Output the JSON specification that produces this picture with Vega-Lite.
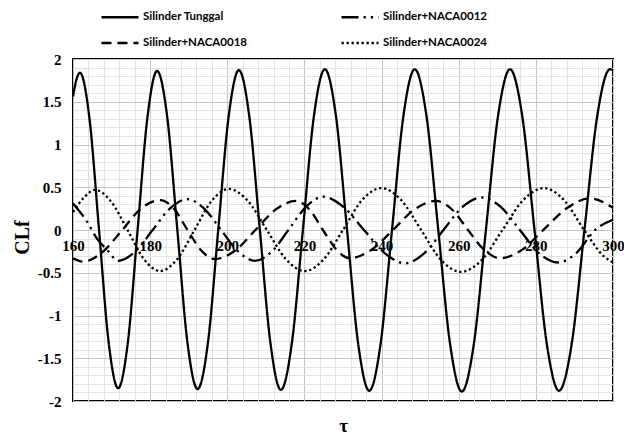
{
"$schema": "https://vega.github.io/schema/vega-lite/v6.json",
"width": 540, "height": 342,
"autosize": {"type": "none"},
"padding": {"left": 73, "top": 59, "right": 11, "bottom": 36},
"background": "white",
"config": {"view": {"stroke": "black", "strokeWidth": 2}},
"datasets": {
"lines": [
{"tau":160,"CL":1.56,"series":"Silinder Tunggal"},{"tau":160.9,"CL":1.76,"series":"Silinder Tunggal"},{"tau":161.8,"CL":1.84,"series":"Silinder Tunggal"},{"tau":164.28,"CL":1.30,"series":"Silinder Tunggal"},{"tau":166.75,"CL":0,"series":"Silinder Tunggal"},{"tau":169.23,"CL":-1.31,"series":"Silinder Tunggal"},{"tau":171.7,"CL":-1.85,"series":"Silinder Tunggal"},{"tau":174.23,"CL":-1.31,"series":"Silinder Tunggal"},{"tau":176.75,"CL":0,"series":"Silinder Tunggal"},{"tau":179.28,"CL":1.31,"series":"Silinder Tunggal"},{"tau":181.8,"CL":1.86,"series":"Silinder Tunggal"},{"tau":184.43,"CL":1.32,"series":"Silinder Tunggal"},{"tau":187.05,"CL":0,"series":"Silinder Tunggal"},{"tau":189.68,"CL":-1.32,"series":"Silinder Tunggal"},{"tau":192.3,"CL":-1.86,"series":"Silinder Tunggal"},{"tau":194.98,"CL":-1.32,"series":"Silinder Tunggal"},{"tau":197.65,"CL":0,"series":"Silinder Tunggal"},{"tau":200.33,"CL":1.32,"series":"Silinder Tunggal"},{"tau":203.0,"CL":1.87,"series":"Silinder Tunggal"},{"tau":205.73,"CL":1.32,"series":"Silinder Tunggal"},{"tau":208.45,"CL":0,"series":"Silinder Tunggal"},{"tau":211.18,"CL":-1.32,"series":"Silinder Tunggal"},{"tau":213.9,"CL":-1.87,"series":"Silinder Tunggal"},{"tau":216.75,"CL":-1.32,"series":"Silinder Tunggal"},{"tau":219.6,"CL":0,"series":"Silinder Tunggal"},{"tau":222.45,"CL":1.33,"series":"Silinder Tunggal"},{"tau":225.3,"CL":1.88,"series":"Silinder Tunggal"},{"tau":228.18,"CL":1.33,"series":"Silinder Tunggal"},{"tau":231.05,"CL":0,"series":"Silinder Tunggal"},{"tau":233.93,"CL":-1.33,"series":"Silinder Tunggal"},{"tau":236.8,"CL":-1.88,"series":"Silinder Tunggal"},{"tau":239.75,"CL":-1.33,"series":"Silinder Tunggal"},{"tau":242.7,"CL":0,"series":"Silinder Tunggal"},{"tau":245.65,"CL":1.33,"series":"Silinder Tunggal"},{"tau":248.6,"CL":1.88,"series":"Silinder Tunggal"},{"tau":251.65,"CL":1.33,"series":"Silinder Tunggal"},{"tau":254.7,"CL":0,"series":"Silinder Tunggal"},{"tau":257.75,"CL":-1.33,"series":"Silinder Tunggal"},{"tau":260.8,"CL":-1.89,"series":"Silinder Tunggal"},{"tau":263.93,"CL":-1.33,"series":"Silinder Tunggal"},{"tau":267.05,"CL":0,"series":"Silinder Tunggal"},{"tau":270.18,"CL":1.33,"series":"Silinder Tunggal"},{"tau":273.3,"CL":1.88,"series":"Silinder Tunggal"},{"tau":276.48,"CL":1.33,"series":"Silinder Tunggal"},{"tau":279.65,"CL":0,"series":"Silinder Tunggal"},{"tau":282.83,"CL":-1.33,"series":"Silinder Tunggal"},{"tau":286.0,"CL":-1.88,"series":"Silinder Tunggal"},{"tau":289.3,"CL":-1.33,"series":"Silinder Tunggal"},{"tau":292.6,"CL":0,"series":"Silinder Tunggal"},{"tau":295.9,"CL":1.33,"series":"Silinder Tunggal"},{"tau":299.2,"CL":1.88,"series":"Silinder Tunggal"},{"tau":300,"CL":1.87,"series":"Silinder Tunggal"},
{"tau":160,"CL":0.21,"series":"Silinder+NACA0024"},{"tau":162.85,"CL":0.38,"series":"Silinder+NACA0024"},{"tau":165.7,"CL":0.47,"series":"Silinder+NACA0024"},{"tau":169.93,"CL":0.33,"series":"Silinder+NACA0024"},{"tau":174.15,"CL":0,"series":"Silinder+NACA0024"},{"tau":178.38,"CL":-0.34,"series":"Silinder+NACA0024"},{"tau":182.6,"CL":-0.48,"series":"Silinder+NACA0024"},{"tau":187.05,"CL":-0.34,"series":"Silinder+NACA0024"},{"tau":191.5,"CL":0,"series":"Silinder+NACA0024"},{"tau":195.95,"CL":0.34,"series":"Silinder+NACA0024"},{"tau":200.4,"CL":0.48,"series":"Silinder+NACA0024"},{"tau":205.33,"CL":0.34,"series":"Silinder+NACA0024"},{"tau":210.25,"CL":0,"series":"Silinder+NACA0024"},{"tau":215.18,"CL":-0.34,"series":"Silinder+NACA0024"},{"tau":220.1,"CL":-0.48,"series":"Silinder+NACA0024"},{"tau":225.05,"CL":-0.34,"series":"Silinder+NACA0024"},{"tau":230.0,"CL":0,"series":"Silinder+NACA0024"},{"tau":234.95,"CL":0.35,"series":"Silinder+NACA0024"},{"tau":239.9,"CL":0.49,"series":"Silinder+NACA0024"},{"tau":245.08,"CL":0.35,"series":"Silinder+NACA0024"},{"tau":250.25,"CL":0,"series":"Silinder+NACA0024"},{"tau":255.43,"CL":-0.35,"series":"Silinder+NACA0024"},{"tau":260.6,"CL":-0.49,"series":"Silinder+NACA0024"},{"tau":265.98,"CL":-0.35,"series":"Silinder+NACA0024"},{"tau":271.35,"CL":0,"series":"Silinder+NACA0024"},{"tau":276.73,"CL":0.35,"series":"Silinder+NACA0024"},{"tau":282.1,"CL":0.49,"series":"Silinder+NACA0024"},{"tau":287.3,"CL":0.35,"series":"Silinder+NACA0024"},{"tau":292.5,"CL":0,"series":"Silinder+NACA0024"},{"tau":297.7,"CL":-0.31,"series":"Silinder+NACA0024"},{"tau":300,"CL":-0.38,"series":"Silinder+NACA0024"},
{"tau":160,"CL":-0.33,"series":"Silinder+NACA0018"},{"tau":162.6,"CL":-0.37,"series":"Silinder+NACA0018"},{"tau":167.6,"CL":-0.26,"series":"Silinder+NACA0018"},{"tau":172.6,"CL":-0.01,"series":"Silinder+NACA0018"},{"tau":177.6,"CL":0.25,"series":"Silinder+NACA0018"},{"tau":182.6,"CL":0.35,"series":"Silinder+NACA0018"},{"tau":186.15,"CL":0.25,"series":"Silinder+NACA0018"},{"tau":189.7,"CL":0,"series":"Silinder+NACA0018"},{"tau":193.25,"CL":-0.24,"series":"Silinder+NACA0018"},{"tau":196.8,"CL":-0.34,"series":"Silinder+NACA0018"},{"tau":202.05,"CL":-0.24,"series":"Silinder+NACA0018"},{"tau":207.3,"CL":0,"series":"Silinder+NACA0018"},{"tau":212.55,"CL":0.24,"series":"Silinder+NACA0018"},{"tau":217.8,"CL":0.34,"series":"Silinder+NACA0018"},{"tau":221.3,"CL":0.24,"series":"Silinder+NACA0018"},{"tau":224.8,"CL":0,"series":"Silinder+NACA0018"},{"tau":228.3,"CL":-0.23,"series":"Silinder+NACA0018"},{"tau":231.8,"CL":-0.33,"series":"Silinder+NACA0018"},{"tau":237.4,"CL":-0.23,"series":"Silinder+NACA0018"},{"tau":242.95,"CL":0,"series":"Silinder+NACA0018"},{"tau":248.5,"CL":0.24,"series":"Silinder+NACA0018"},{"tau":254.1,"CL":0.34,"series":"Silinder+NACA0018"},{"tau":258.25,"CL":0.24,"series":"Silinder+NACA0018"},{"tau":262.4,"CL":0,"series":"Silinder+NACA0018"},{"tau":266.55,"CL":-0.23,"series":"Silinder+NACA0018"},{"tau":270.7,"CL":-0.33,"series":"Silinder+NACA0018"},{"tau":276.5,"CL":-0.23,"series":"Silinder+NACA0018"},{"tau":282.35,"CL":0.02,"series":"Silinder+NACA0018"},{"tau":288.2,"CL":0.26,"series":"Silinder+NACA0018"},{"tau":294.0,"CL":0.37,"series":"Silinder+NACA0018"},{"tau":300,"CL":0.26,"series":"Silinder+NACA0018"},
{"tau":160,"CL":0.31,"series":"Silinder+NACA0012"},{"tau":163.6,"CL":0.1,"series":"Silinder+NACA0012"},{"tau":166.2,"CL":-0.1,"series":"Silinder+NACA0012"},{"tau":168.8,"CL":-0.23,"series":"Silinder+NACA0012"},{"tau":171.7,"CL":-0.36,"series":"Silinder+NACA0012"},{"tau":176.2,"CL":-0.25,"series":"Silinder+NACA0012"},{"tau":180.65,"CL":0,"series":"Silinder+NACA0012"},{"tau":185.1,"CL":0.25,"series":"Silinder+NACA0012"},{"tau":189.6,"CL":0.36,"series":"Silinder+NACA0012"},{"tau":194.0,"CL":0.25,"series":"Silinder+NACA0012"},{"tau":198.4,"CL":0,"series":"Silinder+NACA0012"},{"tau":202.8,"CL":-0.25,"series":"Silinder+NACA0012"},{"tau":207.2,"CL":-0.36,"series":"Silinder+NACA0012"},{"tau":211.6,"CL":-0.25,"series":"Silinder+NACA0012"},{"tau":216.0,"CL":0.01,"series":"Silinder+NACA0012"},{"tau":220.4,"CL":0.27,"series":"Silinder+NACA0012"},{"tau":224.8,"CL":0.39,"series":"Silinder+NACA0012"},{"tau":230.1,"CL":0.27,"series":"Silinder+NACA0012"},{"tau":235.45,"CL":0,"series":"Silinder+NACA0012"},{"tau":240.8,"CL":-0.27,"series":"Silinder+NACA0012"},{"tau":246.1,"CL":-0.39,"series":"Silinder+NACA0012"},{"tau":251.1,"CL":-0.27,"series":"Silinder+NACA0012"},{"tau":256.05,"CL":0,"series":"Silinder+NACA0012"},{"tau":261.0,"CL":0.27,"series":"Silinder+NACA0012"},{"tau":266.0,"CL":0.38,"series":"Silinder+NACA0012"},{"tau":270.9,"CL":0.27,"series":"Silinder+NACA0012"},{"tau":275.85,"CL":0,"series":"Silinder+NACA0012"},{"tau":280.8,"CL":-0.27,"series":"Silinder+NACA0012"},{"tau":285.7,"CL":-0.38,"series":"Silinder+NACA0012"},{"tau":290.5,"CL":-0.27,"series":"Silinder+NACA0012"},{"tau":295.35,"CL":0,"series":"Silinder+NACA0012"},{"tau":300,"CL":0.12,"series":"Silinder+NACA0012"}
]},
"data": {"name": "lines"},
"layer": [
{
"mark": {"type": "line", "strokeOpacity": 0, "interpolate": "monotone"},
"encoding": {
"x": {"field": "tau", "type": "quantitative", "scale": {"domain": [160, 300], "nice": false, "zero": false},
"axis": {"orient": "top", "values": [164,168,172,176,184,188,192,196,204,208,212,216,224,228,232,236,244,248,252,256,264,268,272,276,284,288,292,296], "labels": false, "ticks": false, "domain": false, "title": null, "grid": true, "gridColor": "#e2e2e2", "gridWidth": 1}},
"y": {"field": "CL", "type": "quantitative", "scale": {"domain": [-2, 2], "nice": false, "zero": false},
"axis": {"orient": "right", "values": [-1.9,-1.8,-1.7,-1.6,-1.4,-1.3,-1.2,-1.1,-0.9,-0.8,-0.7,-0.6,-0.4,-0.3,-0.2,-0.1,0.1,0.2,0.3,0.4,0.6,0.7,0.8,0.9,1.1,1.2,1.3,1.4,1.6,1.7,1.8,1.9], "labels": false, "ticks": false, "domain": false, "title": null, "grid": true, "gridColor": "#e2e2e2", "gridWidth": 1}},
"detail": {"field": "series"}
}
},
{
"mark": {"type": "line", "interpolate": "monotone", "color": "black", "strokeWidth": 2.3, "strokeCap": "butt"},
"encoding": {
"x": {"field": "tau", "type": "quantitative",
"axis": {"orient": "bottom", "offset": -171, "values": [160,180,200,220,240,260,280,300], "labelFlush": false, "labelFont": "Liberation Serif", "labelFontWeight": "bold", "labelFontSize": 15, "labelColor": "black", "labelPadding": 8, "ticks": false, "tickSize": 0, "domain": false, "grid": true, "gridColor": "#c4c4c4", "gridWidth": 1,
"title": "τ", "titleFont": "Liberation Serif", "titleFontWeight": "bold", "titleFontSize": 19, "titleColor": "black", "titleX": 270, "titleY": 195, "titleBaseline": "middle"}},
"y": {"field": "CL", "type": "quantitative",
"axis": {"orient": "left", "values": [-2,-1.5,-1,-0.5,0,0.5,1,1.5,2], "labelExpr": "'' + datum.value", "labelFont": "Liberation Serif", "labelFontWeight": "bold", "labelFontSize": 15, "labelColor": "black", "labelPadding": 12, "ticks": false, "tickSize": 0, "domain": false, "grid": true, "gridColor": "#c4c4c4", "gridWidth": 1,
"title": "CLf", "titleFont": "Liberation Serif", "titleFontWeight": "bold", "titleFontSize": 20, "titleColor": "black", "titleX": -51, "titleY": 178, "titleBaseline": "middle", "titleAngle": -90}},
"strokeDash": {"field": "series", "type": "nominal",
"scale": {"domain": ["Silinder Tunggal", "Silinder+NACA0012", "Silinder+NACA0018", "Silinder+NACA0024"], "range": [[1, 0], [17, 5, 2.3, 5, 2.3, 5], [10, 6], [2.3, 2.7]]},
"legend": {"title": null, "orient": "none", "legendX": 27, "legendY": -62, "direction": "horizontal", "columns": 2, "columnPadding": 89, "rowPadding": -14, "symbolType": "stroke", "symbolSize": 1369, "symbolStrokeColor": "black", "symbolStrokeWidth": 2.3, "labelFont": "Lato", "labelFontWeight": "bold", "labelFontSize": 11.5, "labelColor": "black", "labelOffset": 3}}
}
}
],
"resolve": {"axis": {"x": "independent", "y": "independent"}}
}
